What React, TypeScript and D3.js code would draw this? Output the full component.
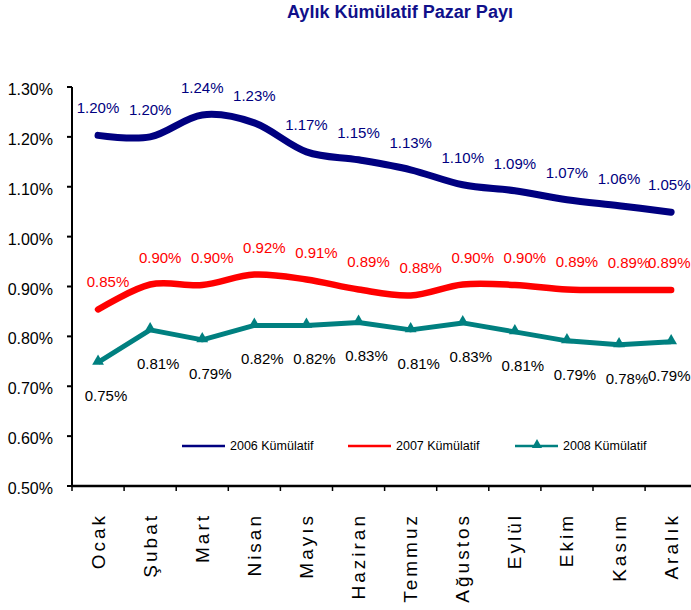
import React from "react";
import * as d3 from "d3";

const months = ["Ocak", "Şubat", "Mart", "Nisan", "Mayıs", "Haziran", "Temmuz", "Ağustos", "Eylül", "Ekim", "Kasım", "Aralık"];
const series2006 = [1.203, 1.2, 1.244, 1.228, 1.17, 1.154, 1.134, 1.104, 1.092, 1.074, 1.062, 1.049];
const series2007 = [0.854, 0.904, 0.903, 0.924, 0.914, 0.894, 0.882, 0.904, 0.903, 0.894, 0.893, 0.893];
const series2008 = [0.748, 0.813, 0.793, 0.822, 0.822, 0.828, 0.813, 0.827, 0.809, 0.791, 0.783, 0.789];
const seriesNames = ["2006 Kümülatif", "2007 Kümülatif", "2008 Kümülatif"];
const yTicks = [0.5, 0.6, 0.7, 0.8, 0.9, 1.0, 1.1, 1.2, 1.3];
const title = "Aylık Kümülatif Pazar Payı";

const W = 691;
const H = 610;
const FONT = "'Liberation Sans', Arial, Helvetica, sans-serif";

export default function App() {
  const x = d3.scaleBand<string>().domain(months).range([72, 72 + 12 * 52.1]).padding(0);
  const cx = (i: number) => (x(months[i]) as number) + x.bandwidth() / 2;
  const y = d3.scaleLinear().domain([0.5, 1.3]).range([486, 87]);

  const smooth = d3.line<number>().x((_, i) => cx(i)).y((d) => y(d)).curve(d3.curveCardinal.tension(0));
  const straight = d3.line<number>().x((_, i) => cx(i)).y((d) => y(d));
  const tri = d3.symbol().type(d3.symbolTriangle).size(60)();
  const triSmall = d3.symbol().type(d3.symbolTriangle).size(45)();

  const fmt = (v: number) => v.toFixed(2) + "%";
  const LABEL_FS = 15;
  const halfW = (LABEL_FS * 2.835) / 2;
  const clampX = (px: number) => Math.min(px, 690.5 - halfW);

  const navy = "#000080";
  const red = "#FF0000";
  const teal = "#008080";

  const legendItems = [
    { name: seriesNames[0], color: navy, x1: 182, marker: false },
    { name: seriesNames[1], color: red, x1: 348, marker: false },
    { name: seriesNames[2], color: teal, x1: 515, marker: true },
  ];

  return (
    <>
      <style>{`body{margin:0;}`}</style>
      <svg width={W} height={H} style={{ display: "block", background: "#fff" }} fontFamily={FONT}>
        <text x={400} y={18} textAnchor="middle" fontWeight="bold" fontSize={18} fill="#10108a" textLength={226} lengthAdjust="spacingAndGlyphs">
          {title}
        </text>

        {/* y axis */}
        <line x1={72} x2={72} y1={y(1.3)} y2={y(0.5)} stroke="#000" strokeWidth={2} />
        {yTicks.map((t) => (
          <g key={t}>
            <line x1={67} x2={72} y1={y(t)} y2={y(t)} stroke="#000" strokeWidth={2} />
            <text x={53} y={y(t) + 8} textAnchor="end" fontSize={16} fill="#000">
              {t.toFixed(2) + "%"}
            </text>
          </g>
        ))}

        {/* x axis */}
        <line x1={71} x2={W} y1={y(0.5)} y2={y(0.5)} stroke="#000" strokeWidth={2.5} />
        {months.map((m) => (
          <line key={"t" + m} x1={x(m) as number} x2={x(m) as number} y1={y(0.5)} y2={y(0.5) + 5} stroke="#000" strokeWidth={1.5} />
        ))}
        {months.map((m, i) => (
          <text
            key={"l" + m}
            transform={`translate(${cx(i) + 6.5},${513}) rotate(-90)`}
            textAnchor="end"
            fontSize={19}
            letterSpacing={3}
            fill="#000"
          >
            {m}
          </text>
        ))}

        {/* lines */}
        <path d={smooth(series2006) || ""} fill="none" stroke={navy} strokeWidth={7} strokeLinecap="round" strokeLinejoin="round" />
        <path d={smooth(series2007) || ""} fill="none" stroke={red} strokeWidth={6.5} strokeLinecap="round" strokeLinejoin="round" />
        <path d={straight(series2008) || ""} fill="none" stroke={teal} strokeWidth={5} strokeLinejoin="round" />
        {series2008.map((v, i) => (
          <path key={"m" + i} d={tri || ""} transform={`translate(${cx(i)},${y(v) - 1})`} fill={teal} />
        ))}

        {/* labels */}
        {series2006.map((v, i) => (
          <text key={"a" + i} x={clampX(cx(i))} y={y(v) - 22} textAnchor="middle" fontSize={LABEL_FS} fill={navy}>
            {fmt(v)}
          </text>
        ))}
        {series2007.map((v, i) => (
          <text key={"b" + i} x={clampX(cx(i) + 10)} y={y(v) - 22} textAnchor="middle" fontSize={LABEL_FS} fill={red}>
            {fmt(v)}
          </text>
        ))}
        {series2008.map((v, i) => (
          <text key={"c" + i} x={clampX(cx(i) + 8)} y={y(v) + 39} textAnchor="middle" fontSize={LABEL_FS} fill="#000">
            {fmt(v)}
          </text>
        ))}

        {/* legend */}
        {legendItems.map((it) => (
          <g key={it.name}>
            <line x1={it.x1} x2={it.x1 + 43} y1={446} y2={446} stroke={it.color} strokeWidth={2.5} />
            {it.marker && <path d={triSmall || ""} transform={`translate(${it.x1 + 22},${445})`} fill={it.color} />}
            <text x={it.x1 + 48} y={450} fontSize={12.5} fill="#000">
              {it.name}
            </text>
          </g>
        ))}
      </svg>
    </>
  );
}
